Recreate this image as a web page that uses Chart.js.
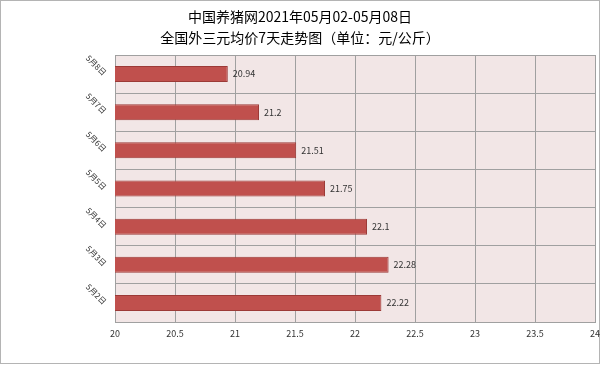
<!DOCTYPE html>
<html>
<head>
<meta charset="utf-8">
<script src="https://cdn.jsdelivr.net/npm/chart.js@4/dist/chart.umd.min.js"></script>
<style>
  body { margin: 0; background: #fff; }
</style>
</head>
<body>
<canvas id="price_chart" width="600" height="365"></canvas>
<script>
// data, top to bottom as in the picture
const day_labels = ["5月8日", "5月7日", "5月6日", "5月5日", "5月4日", "5月3日", "5月2日"];
const price_values = [20.94, 21.2, 21.51, 21.75, 22.1, 22.28, 22.22];
const title_lines = ["中国养猪网2021年05月02-05月08日", "全国外三元均价7天走势图（单位：元/公斤）"];
const x_min = 20, x_max = 24, x_step = 0.5;

const ctx = document.getElementById("price_chart").getContext("2d");
const cjk_font = "'Noto Sans CJK SC', 'Noto Sans', sans-serif";

// white page, pink plot area and a thin frame round everything
const background_plugin = {
  id: "background_plugin",
  beforeDraw(chart) {
    const c = chart.ctx;
    const a = chart.chartArea;
    c.save();
    c.fillStyle = "#ffffff";
    c.fillRect(0, 0, chart.width, chart.height);
    c.fillStyle = "#f2e6e6";
    c.fillRect(a.left, a.top, a.right - a.left, a.bottom - a.top);
    c.strokeStyle = "#b4b4b4";
    c.lineWidth = 1;
    c.strokeRect(0.5, 0.5, chart.width - 1, chart.height - 2);
    c.restore();
  }
};

// numbers at the end of each bar
const value_labels_plugin = {
  id: "value_labels_plugin",
  afterDatasetsDraw(chart) {
    const c = chart.ctx;
    const meta = chart.getDatasetMeta(0);
    c.save();
    c.font = "9px " + cjk_font;
    c.fillStyle = "#333333";
    c.textAlign = "left";
    c.textBaseline = "middle";
    meta.data.forEach((bar, i) => {
      c.fillText(String(price_values[i]), bar.x + 5, bar.y);
    });
    c.restore();
  }
};

new Chart(ctx, {
  type: "bar",
  data: {
    labels: day_labels,
    datasets: [
      {
        data: price_values,
        backgroundColor: "#c0504d",
        borderColor: "#9c3a37",
        borderWidth: 1,
        borderSkipped: false,
        categoryPercentage: 1,
        barPercentage: 0.42,
      },
    ],
  },
  options: {
    indexAxis: "y",
    responsive: false,
    animation: false,
    layout: { padding: { left: 0, right: 0, top: 0, bottom: 0 } },
    plugins: {
      legend: { display: false },
      tooltip: { enabled: false },
      title: {
        display: true,
        text: title_lines,
        color: "#000000",
        font: { family: cjk_font, size: 14, weight: "normal", lineHeight: 1.5 },
        padding: { top: 6, bottom: 7 },
      },
    },
    scales: {
      x: {
        min: x_min,
        max: x_max,
        afterFit(scale) {
          scale.height = 43;
          scale.paddingRight = 5;
        },
        ticks: {
          stepSize: x_step,
          color: "#333333",
          padding: 6,
          font: { family: cjk_font, size: 9 },
          callback: (value) => String(value),
        },
        grid: { color: "#a0a0a0", drawTicks: false },
        border: { color: "#a0a0a0" },
      },
      y: {
        afterFit(scale) { scale.width = 115; },
        ticks: {
          minRotation: -45,
          maxRotation: -45,
          padding: 10,
          color: "#333333",
          font: { family: cjk_font, size: 8 },
        },
        grid: { color: "#a0a0a0", drawTicks: false },
        border: { color: "#a0a0a0" },
      },
    },
  },
  plugins: [background_plugin, value_labels_plugin],
});
</script>
</body>
</html>
